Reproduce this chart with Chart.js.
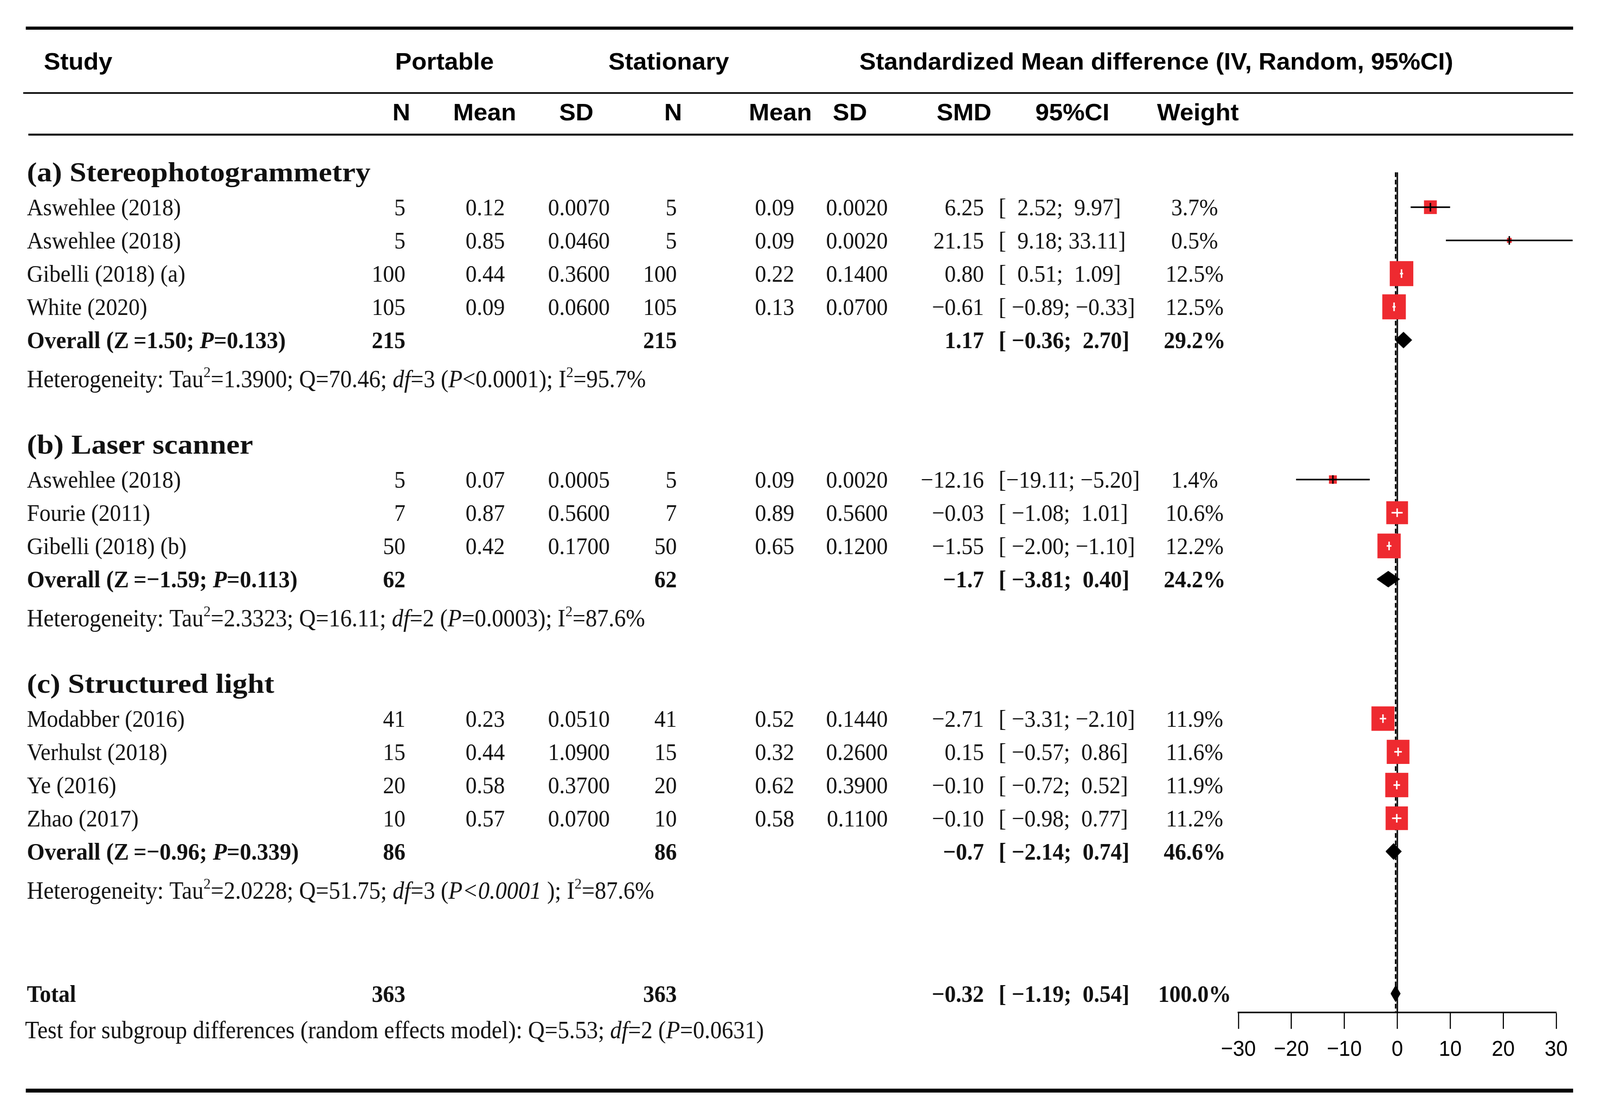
<!DOCTYPE html>
<html>
<head>
<meta charset="utf-8">
<script src="https://cdn.jsdelivr.net/npm/chart.js@4.4.0/dist/chart.umd.min.js"></script>
<style>
  html, body { margin: 0; padding: 0; background: #fff; overflow: hidden; }
  canvas { display: block; }
</style>
</head>
<body>
<canvas id="forest" width="4345" height="2856" style="width:100vw;height:100vh"></canvas>
<script>
// ---- data ----
const groupTitles = ['(a) Stereophotogrammetry', '(b) Laser scanner', '(c) Structured light'];
const studyNames = ['Aswehlee (2018)', 'Aswehlee (2018)', 'Gibelli (2018) (a)', 'White (2020)',
  'Aswehlee (2018)', 'Fourie (2011)', 'Gibelli (2018) (b)',
  'Modabber (2016)', 'Verhulst (2018)', 'Ye (2016)', 'Zhao (2017)'];
const studyGroup = [0, 0, 0, 0, 1, 1, 1, 2, 2, 2, 2];
const portN = [5, 5, 100, 105, 5, 7, 50, 41, 15, 20, 10];
const portMean = [0.12, 0.85, 0.44, 0.09, 0.07, 0.87, 0.42, 0.23, 0.44, 0.58, 0.57];
const portSD = [0.0070, 0.0460, 0.3600, 0.0600, 0.0005, 0.5600, 0.1700, 0.0510, 1.0900, 0.3700, 0.0700];
const statN = [5, 5, 100, 105, 5, 7, 50, 41, 15, 20, 10];
const statMean = [0.09, 0.09, 0.22, 0.13, 0.09, 0.89, 0.65, 0.52, 0.32, 0.62, 0.58];
const statSD = [0.0020, 0.0020, 0.1400, 0.0700, 0.0020, 0.5600, 0.1200, 0.1440, 0.2600, 0.3900, 0.1100];
const smd = [6.25, 21.15, 0.80, -0.61, -12.16, -0.03, -1.55, -2.71, 0.15, -0.10, -0.10];
const ciLo = [2.52, 9.18, 0.51, -0.89, -19.11, -1.08, -2.00, -3.31, -0.57, -0.72, -0.98];
const ciHi = [9.97, 33.11, 1.09, -0.33, -5.20, 1.01, -1.10, -2.10, 0.86, 0.52, 0.77];
const weight = [3.7, 0.5, 12.5, 12.5, 1.4, 10.6, 12.2, 11.9, 11.6, 11.9, 11.2];

const groupN = [215, 62, 86];
const groupSMD = [1.17, -1.7, -0.7];
const groupLo = [-0.36, -3.81, -2.14];
const groupHi = [2.70, 0.40, 0.74];
const groupWeight = [29.2, 24.2, 46.6];
const groupZ = [1.50, -1.59, -0.96];
const groupP = ['0.133', '0.113', '0.339'];

const hetTau2 = ['1.3900', '2.3323', '2.0228'];
const hetQ = ['70.46', '16.11', '51.75'];
const hetDf = [3, 2, 3];
const hetP = ['<0.0001', '=0.0003', '<0.0001'];
const hetI2 = ['95.7', '87.6', '87.6'];

const totalN = 363;
const totalSMD = -0.32;
const totalLo = -1.19;
const totalHi = 0.54;
const totalWeight = 100.0;
const testQ = '5.53', testDf = 2, testP = '0.0631';

const xTicks = [-30, -20, -10, 0, 10, 20, 30];

// ---- layout (row slots, in row units) ----
const FIRST_GAP = 1.05, HET_GAP = 1.18, TITLE_GAP = 1.97, TOTAL_GAP = 4.28, TEST_GAP = 1.1;
const titleY = [], studyY = [], overallY = [], hetY = [];
let pos = 0;
groupTitles.forEach((g, gi) => {
  pos = gi === 0 ? 0 : hetY[gi - 1] + TITLE_GAP;
  titleY.push(pos);
  pos += FIRST_GAP;
  studyNames.forEach((s, i) => {
    if (studyGroup[i] === gi) { studyY[i] = pos; pos += 1; }
  });
  overallY.push(pos);
  hetY.push(pos + HET_GAP);
});
const totalY = overallY[2] + TOTAL_GAP;
const testY = totalY + TEST_GAP;
const Y_MAX = 1.05 + (2591 - 530) / 85;

const SERIF = "'Liberation Serif','Times New Roman',serif";
const SANS = "'Liberation Sans',Arial,sans-serif";
const RED = '#ee2a30';
const SQ_SCALE = 64 / Math.sqrt(12.5);   // square side in px per sqrt(weight)
const DIA_H = 0.235;                    // diamond half height, row units

const minus = s => String(s).replace('-', '\u2212');
const fmt = (v, d) => minus(v.toFixed(d));
const ciText = (lo, hi) => '[' + fmt(lo, 2).padStart(6, ' ') + '; ' + fmt(hi, 2).padStart(5, ' ') + ']';

function isInside(chart, i) {
  const xs = chart.scales.x;
  return (xs.getPixelForValue(ciHi[i]) - xs.getPixelForValue(ciLo[i])) <= SQ_SCALE * Math.sqrt(weight[i]);
}

// ---- datasets ----
const ciData = [];
smd.forEach((v, i) => {
  ciData.push({ x: ciLo[i], y: studyY[i] }, { x: ciHi[i], y: studyY[i] }, { x: ciHi[i], y: null });
});

const diamonds = groupSMD.map((v, g) => ({ est: v, lo: groupLo[g], hi: groupHi[g], y: overallY[g] }));
diamonds.push({ est: totalSMD, lo: totalLo, hi: totalHi, y: totalY });

const datasets = [
  {
    label: 'estimate ticks',
    data: smd.map((v, i) => ({ x: v, y: studyY[i] })),
    pointStyle: 'line', rotation: 90, pointRadius: 11, borderWidth: 4,
    pointBorderColor: ctx => isInside(ctx.chart, ctx.dataIndex) ? '#fff' : '#000',
    clip: false
  },
  {
    label: 'CI',
    data: ciData, showLine: true, spanGaps: false, pointRadius: 0, borderWidth: 4,
    borderColor: '#000',
    segment: { borderColor: ctx => isInside(ctx.chart, Math.floor(ctx.p0DataIndex / 3)) ? '#fff' : '#000' },
    clip: false
  },
  {
    label: 'studies',
    data: smd.map((v, i) => ({ x: v, y: studyY[i] })),
    pointStyle: 'rect',
    pointRadius: ctx => SQ_SCALE * Math.sqrt(weight[ctx.dataIndex]) / Math.SQRT2,
    backgroundColor: RED, borderWidth: 0, clip: false
  },
  ...diamonds.map(d => ({
    label: 'pooled',
    data: [{ x: d.lo, y: d.y }, { x: d.est, y: d.y - DIA_H }, { x: d.hi, y: d.y }, { x: d.est, y: d.y + DIA_H }, { x: d.lo, y: d.y }],
    showLine: true, fill: 'shape', backgroundColor: '#000', borderColor: '#000', borderWidth: 2,
    pointRadius: 0, tension: 0, clip: false
  })),
  {
    label: 'pooled effect',
    data: [{ x: totalSMD, y: 0 }, { x: totalSMD, y: Y_MAX }],
    showLine: true, pointRadius: 0, borderColor: '#000', borderWidth: 4, borderDash: [12, 7]
  },
  {
    label: 'no effect',
    data: [{ x: 0, y: 0 }, { x: 0, y: Y_MAX }],
    showLine: true, pointRadius: 0, borderColor: '#000', borderWidth: 4
  }
];

// ---- text helpers ----
function drawText(ctx, str, x, y, font, align, sx) {
  ctx.save();
  ctx.translate(x, y);
  ctx.scale(sx || 1, 1);
  ctx.font = font;
  ctx.textAlign = align || 'left';
  ctx.textBaseline = 'alphabetic';
  ctx.fillText(str, 0, 0);
  ctx.restore();
}
function drawRich(ctx, parts, x, y, size, bold) {
  let cx = x;
  ctx.textAlign = 'left';
  ctx.textBaseline = 'alphabetic';
  parts.forEach(p => {
    const fs = p.sup ? size * 0.62 : size;
    ctx.font = (p.it ? 'italic ' : '') + (bold ? 'bold ' : '') + fs + 'px ' + SERIF;
    ctx.fillText(p.t, cx, y + (p.sup ? -size * 0.42 : 0));
    cx += ctx.measureText(p.t).width;
  });
}

const tablePlugin = {
  id: 'forestTable',
  beforeDraw(chart) {
    const ctx = chart.ctx;
    ctx.save();
    ctx.fillStyle = '#fff';
    ctx.fillRect(0, 0, chart.width, chart.height);
    ctx.restore();
  },
  afterDraw(chart) {
    const ctx = chart.ctx;
    const ys = chart.scales.y;
    const rowY = v => ys.getPixelForValue(v) + 21;
    ctx.save();
    ctx.fillStyle = '#000';
    // rules
    ctx.fillRect(70, 68, 4202, 8);
    ctx.fillRect(63, 236, 4209, 4);
    ctx.fillRect(77, 342, 4195, 5);
    ctx.fillRect(70, 2786, 4202, 10);

    // headers
    const HF = 'bold 62px ' + SANS;
    drawText(ctx, 'Study', 119, 178, HF, 'left', 1.08);
    drawText(ctx, 'Portable', 1207, 178, HF, 'center', 1.08);
    drawText(ctx, 'Stationary', 1816, 178, HF, 'center', 1.08);
    drawText(ctx, 'Standardized Mean difference (IV, Random, 95%CI)', 3140, 178, HF, 'center', 1.08);
    const subX = [1090, 1316, 1565, 1828, 2119, 2308, 2618, 2912, 3253];
    ['N', 'Mean', 'SD', 'N', 'Mean', 'SD', 'SMD', '95%CI', 'Weight'].forEach((h, k) => {
      drawText(ctx, h, subX[k], 308, HF, 'center', 1.08);
    });

    const BF = '61px ' + SERIF;
    const BB = 'bold 61px ' + SERIF;
    ctx.fillStyle = '#111';
    // group blocks
    groupTitles.forEach((g, gi) => {
      drawText(ctx, g, 73, ys.getPixelForValue(titleY[gi]) + 23, 'bold 70px ' + SERIF, 'left', 1.17);

      const oy = rowY(overallY[gi]);
      drawRich(ctx, [{ t: 'Overall (Z\u2009=' + fmt(groupZ[gi], 2) + '; ' }, { t: 'P', it: true }, { t: '=' + groupP[gi] + ')' }], 73, oy, 62, true);
      drawText(ctx, String(groupN[gi]), 1101, oy, BB, 'right');
      drawText(ctx, String(groupN[gi]), 1838, oy, BB, 'right');
      drawText(ctx, minus(groupSMD[gi]), 2672, oy, BB, 'right');
      drawText(ctx, ciText(groupLo[gi], groupHi[gi]), 2712, oy, BB, 'left');
      drawText(ctx, groupWeight[gi].toFixed(1) + '%', 3244, oy, BB, 'center');

      const hy = ys.getPixelForValue(hetY[gi]) + 21;
      const pItalic = gi === 2;
      drawRich(ctx, [
        { t: 'Heterogeneity: Tau' }, { t: '2', sup: true },
        { t: '=' + hetTau2[gi] + '; Q=' + hetQ[gi] + '; ' }, { t: 'df', it: true },
        { t: '=' + hetDf[gi] + ' (' }, { t: 'P', it: true },
        { t: hetP[gi] + (pItalic ? ' ' : ''), it: pItalic },
        { t: '); I' }, { t: '2', sup: true }, { t: '=' + hetI2[gi] + '%' }
      ], 73, hy, 62.5, false);
    });

    // studies
    studyNames.forEach((name, i) => {
      const y = rowY(studyY[i]);
      drawText(ctx, name, 73, y, BF, 'left');
      drawText(ctx, String(portN[i]), 1101, y, BF, 'right');
      drawText(ctx, portMean[i].toFixed(2), 1371, y, BF, 'right');
      drawText(ctx, portSD[i].toFixed(4), 1656, y, BF, 'right');
      drawText(ctx, String(statN[i]), 1838, y, BF, 'right');
      drawText(ctx, statMean[i].toFixed(2), 2157, y, BF, 'right');
      drawText(ctx, statSD[i].toFixed(4), 2411, y, BF, 'right');
      drawText(ctx, fmt(smd[i], 2), 2672, y, BF, 'right');
      drawText(ctx, ciText(ciLo[i], ciHi[i]), 2712, y, BF, 'left');
      drawText(ctx, weight[i].toFixed(1) + '%', 3244, y, BF, 'center');
    });

    // total
    const ty = rowY(totalY);
    drawText(ctx, 'Total', 73, ty, BB, 'left');
    drawText(ctx, String(totalN), 1101, ty, BB, 'right');
    drawText(ctx, String(totalN), 1838, ty, BB, 'right');
    drawText(ctx, fmt(totalSMD, 2), 2672, ty, BB, 'right');
    drawText(ctx, ciText(totalLo, totalHi), 2712, ty, BB, 'left');
    drawText(ctx, totalWeight.toFixed(1) + '%', 3244, ty, BB, 'center');

    drawRich(ctx, [
      { t: 'Test for subgroup differences (random effects model): Q=' + testQ + '; ' },
      { t: 'df', it: true }, { t: '=' + testDf + ' (' }, { t: 'P', it: true }, { t: '=' + testP + ')' }
    ], 68, ys.getPixelForValue(testY) + 21, 62.5, false);
    ctx.restore();
  }
};

new Chart(document.getElementById('forest'), {
  type: 'scatter',
  data: { datasets },
  options: {
    responsive: false,
    devicePixelRatio: 1,
    animation: false,
    events: [],
    layout: { padding: { left: 3363, right: 119, top: 441, bottom: 115 } },
    plugins: { legend: { display: false }, tooltip: { enabled: false } },
    scales: {
      x: {
        type: 'linear', position: 'bottom', min: -30, max: 30,
        afterBuildTicks: s => { s.ticks = xTicks.map(v => ({ value: v })); },
        afterFit: s => { s.height = 150; },
        grid: { display: true, drawOnChartArea: false, drawTicks: true, tickLength: 42, tickWidth: 3, tickColor: '#000' },
        border: { display: true, color: '#000', width: 4 },
        ticks: {
          color: '#000', padding: 20, maxRotation: 0, autoSkip: false,
          font: { family: "'Liberation Sans Narrow','Liberation Sans',Arial,sans-serif", size: 56 },
          callback: v => minus(v)
        }
      },
      y: { type: 'linear', min: 0, max: Y_MAX, reverse: true, display: false }
    }
  },
  plugins: [tablePlugin]
});
</script>
</body>
</html>
